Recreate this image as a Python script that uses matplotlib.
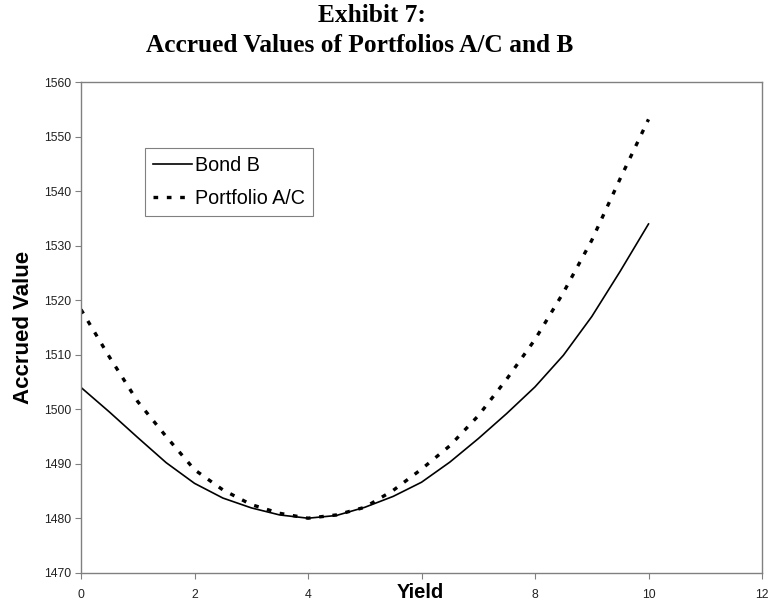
import matplotlib
matplotlib.use("Agg")
import matplotlib.pyplot as plt

# ---- data ----
yields = [0, 0.5, 1, 1.5, 2, 2.5, 3, 3.5, 4, 4.5, 5, 5.5, 6, 6.5, 7, 7.5, 8, 8.5, 9, 9.5, 10]
bond_b = [1504.0, 1499.5, 1494.8, 1490.2, 1486.4, 1483.7, 1481.9, 1480.6, 1480.0, 1480.5,
          1482.0, 1484.0, 1486.6, 1490.3, 1494.6, 1499.2, 1504.1, 1509.9, 1517.0, 1525.3, 1534.0]
portfolio_ac = [1518.3, 1509.6, 1501.4, 1495.0, 1488.9, 1485.2, 1482.5, 1480.9, 1480.0, 1480.6,
                1482.0, 1485.1, 1489.0, 1493.3, 1498.8, 1505.5, 1512.8, 1521.4, 1531.0, 1542.3, 1553.2]
series_labels = ["Bond B", "Portfolio A/C"]
x_ticks = [0, 2, 4, 6, 8, 10, 12]
x_tick_labels = ["0", "2", "4", "", "8", "10", "12"]  # "6" is hidden under the axis title
y_ticks = [1470, 1480, 1490, 1500, 1510, 1520, 1530, 1540, 1550, 1560]

W, H = 768, 604
fig = plt.figure(figsize=(W / 100, H / 100), dpi=100)
ax = fig.add_axes([81 / W, 1 - 572.7 / H, (762 - 81) / W, (572.7 - 82.3) / H])

ax.plot(yields, bond_b, color="black", lw=1.2, solid_joinstyle="round", label=series_labels[0])
ax.plot(yields, portfolio_ac, color="black", lw=2.4, linestyle=(0, (1.4, 2.6)),
        dash_capstyle="butt", label=series_labels[1])

ax.set_xlim(0, 12)
ax.set_ylim(1470, 1560)
ax.set_xticks(x_ticks)
ax.set_xticklabels(x_tick_labels)
ax.set_yticks(y_ticks)
for s in ["top", "right", "left", "bottom"]:
    ax.spines[s].set_color("#808080")
    ax.spines[s].set_linewidth(1.0)
ax.tick_params(axis="both", direction="out", length=4, width=0.8, color="#808080",
               labelsize=8.8, labelcolor="#222222")
ax.tick_params(axis="x", pad=7.5)
ax.tick_params(axis="y", pad=3.2)
for lab in ax.get_xticklabels() + ax.get_yticklabels():
    lab.set_fontfamily("Liberation Sans")

leg = ax.legend(loc="upper left", bbox_to_anchor=((145 - 81) / (762 - 81), 1 - (148 - 82.3) / (572.7 - 82.3)),
                frameon=True, fancybox=False, edgecolor="#808080", framealpha=1,
                prop={"family": "Liberation Sans", "size": 14.2},
                handlelength=1.95, handletextpad=0.15, labelspacing=0.7,
                borderpad=0.42, borderaxespad=0)
leg.get_frame().set_linewidth(0.8)

fig.text(372 / W, 1 - 21.7 / H, "Exhibit 7:", ha="center", va="baseline",
         family="Liberation Serif", weight="bold", fontsize=18.3)
fig.text(360 / W, 1 - 52.3 / H, "Accrued Values of Portfolios A/C and B", ha="center", va="baseline",
         family="Liberation Serif", weight="bold", fontsize=18.3)

fig.text(24 / W, 1 - 327 / H, "Accrued Value", rotation=90, ha="center", va="center",
         family="Liberation Sans", weight="bold", fontsize=16)
fig.text(420 / W, 1 - 593 / H, "Yield", ha="center", va="center",
         family="Liberation Sans", weight="bold", fontsize=14.5)

fig.savefig("out.png", dpi=100, facecolor="white")
